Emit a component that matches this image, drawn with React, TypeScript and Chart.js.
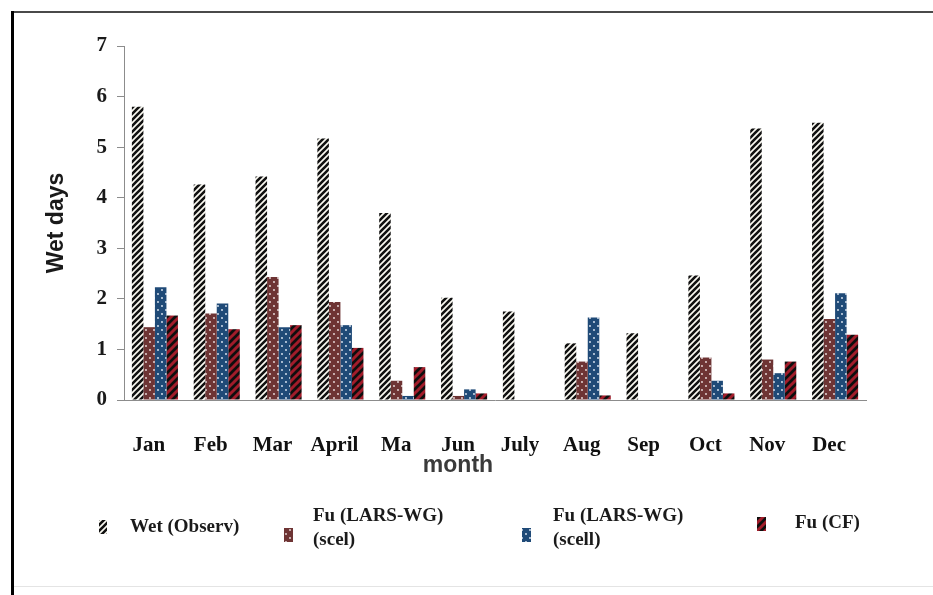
import React, { useEffect, useRef } from 'react';
import { Chart, registerables } from 'chart.js';

Chart.register(...registerables);

// ---- data ----
const months = ['Jan', 'Feb', 'Mar', 'April', 'Ma', 'Jun', 'July', 'Aug', 'Sep', 'Oct', 'Nov', 'Dec'];
const wetObserv = [5.8, 4.26, 4.42, 5.17, 3.7, 2.02, 1.75, 1.12, 1.32, 2.46, 5.37, 5.48];
const fuScel = [1.44, 1.71, 2.43, 1.94, 0.38, 0.08, 0, 0.76, 0, 0.84, 0.8, 1.6];
const fuScell = [2.23, 1.91, 1.44, 1.48, 0.08, 0.21, 0, 1.63, 0, 0.38, 0.53, 2.11];
const fuCF = [1.67, 1.4, 1.48, 1.03, 0.65, 0.13, 0, 0.09, 0, 0.13, 0.76, 1.29];
const seriesNames = ['Wet (Observ)', 'Fu (LARS-WG) (scel)', 'Fu (LARS-WG) (scell)', 'Fu (CF)'];
const legendLines = [['Wet (Observ)'], ['Fu (LARS-WG)', '(scel)'], ['Fu (LARS-WG)', '(scell)'], ['Fu (CF)']];
const yTickValues = [0, 1, 2, 3, 4, 5, 6, 7];
const xTitle = 'month';
const yTitle = 'Wet days';

function makeStripe(bg: string, fg: string, size: number, lw: number): HTMLCanvasElement {
  const c = document.createElement('canvas');
  c.width = size;
  c.height = size;
  const g = c.getContext('2d')!;
  g.fillStyle = bg;
  g.fillRect(0, 0, size, size);
  g.strokeStyle = fg;
  g.lineWidth = lw;
  g.beginPath();
  g.moveTo(-2, 2);
  g.lineTo(2, -2);
  g.moveTo(0, size);
  g.lineTo(size, 0);
  g.moveTo(size - 2, size + 2);
  g.lineTo(size + 2, size - 2);
  g.stroke();
  return c;
}

function makeDots(bg: string, fg: string, size: number): HTMLCanvasElement {
  const c = document.createElement('canvas');
  c.width = size;
  c.height = size;
  const g = c.getContext('2d')!;
  g.fillStyle = bg;
  g.fillRect(0, 0, size, size);
  g.fillStyle = fg;
  const pts = [
    [size / 4, size / 4],
    [(3 * size) / 4, (3 * size) / 4],
  ];
  pts.forEach(([x, y]) => {
    g.beginPath();
    g.arc(x, y, 0.9, 0, Math.PI * 2);
    g.fill();
  });
  return c;
}

export default function App() {
  const ref = useRef<HTMLCanvasElement | null>(null);

  useEffect(() => {
    const canvas = ref.current!;
    const ctx = canvas.getContext('2d')!;
    const pObs = ctx.createPattern(makeStripe('#fbfaf2', '#111111', 6, 2.6), 'repeat')!;
    const pScel = ctx.createPattern(makeDots('#6e3434', '#f0e4e4', 8), 'repeat')!;
    const pScell = ctx.createPattern(makeDots('#1f4a77', '#e6eef8', 8), 'repeat')!;
    const pCF = ctx.createPattern(makeStripe('#0e0e0e', '#a11c2a', 8, 3), 'repeat')!;
    const fills = [pObs, pScel, pScell, pCF];
    const seriesData = [wetObserv, fuScel, fuScell, fuCF];

    const framePlugin = {
      id: 'frame',
      beforeDraw(chart: any) {
        const c = chart.ctx;
        c.save();
        c.fillStyle = '#ffffff';
        c.fillRect(0, 0, chart.width, chart.height);
        c.fillStyle = '#4a4a4a';
        c.fillRect(11, 11, chart.width - 11, 2);
        c.fillStyle = '#000000';
        c.fillRect(11, 11, 3, chart.height - 11);
        c.fillStyle = '#e4e4e4';
        c.fillRect(14, 586, chart.width - 14, 1);
        c.restore();
      },
    };

    const legendPlugin = {
      id: 'customLegend',
      afterDraw(chart: any) {
        const c = chart.ctx;
        c.save();
        // x axis title
        c.fillStyle = '#3a3a3a';
        c.font = 'bold 23px "Liberation Sans", Arial, sans-serif';
        c.textAlign = 'center';
        c.textBaseline = 'middle';
        c.fillText(xTitle, 458, 466);

        const items = [
          { sx: 99, sy: 520, sw: 8, sh: 14, tx: 130, ty: 527 },
          { sx: 284, sy: 528, sw: 9, sh: 14, tx: 313, ty: 516 },
          { sx: 522, sy: 528, sw: 9, sh: 14, tx: 553, ty: 516 },
          { sx: 757, sy: 517, sw: 9, sh: 14, tx: 795, ty: 523 },
        ];
        c.font = 'bold 19px "Liberation Serif", "Times New Roman", serif';
        c.textAlign = 'left';
        c.textBaseline = 'middle';
        items.forEach((it, i) => {
          c.fillStyle = fills[i];
          c.fillRect(it.sx, it.sy, it.sw, it.sh);
          c.fillStyle = '#1a1a1a';
          legendLines[i].forEach((line, j) => {
            c.fillText(line, it.tx, it.ty + j * 24);
          });
        });
        c.restore();
      },
    };

    const chart = new Chart(canvas, {
      type: 'bar',
      data: {
        labels: months,
        datasets: seriesNames.map((name, i) => ({
          label: name,
          data: seriesData[i],
          backgroundColor: fills[i],
          borderWidth: 0,
          categoryPercentage: 0.745,
          barPercentage: 1,
        })),
      },
      options: {
        responsive: false,
        animation: false,
        devicePixelRatio: 1,
        layout: { padding: { left: 40, top: 46, right: 67, bottom: 95 } },
        plugins: {
          legend: { display: false },
          tooltip: { enabled: false },
          title: { display: false },
        },
        scales: {
          x: {
            grid: { display: false },
            border: { display: true, color: '#8c8c8c', width: 1 },
            ticks: {
              color: '#111111',
              font: { family: '"Liberation Serif", "Times New Roman", serif', size: 21, weight: 'bold' },
              padding: 25,
              labelOffset: -6,
              maxRotation: 0,
              autoSkip: false,
            },
            afterFit(scale: any) {
              scale.height = 100;
            },
          },
          y: {
            min: 0,
            max: 7,
            afterBuildTicks(scale: any) {
              scale.ticks = yTickValues.map((v) => ({ value: v }));
            },
            grid: {
              display: true,
              drawOnChartArea: false,
              drawTicks: true,
              tickLength: 7,
              color: '#8c8c8c',
            },
            border: { display: true, color: '#8c8c8c', width: 1 },
            ticks: {
              color: '#1a1a1a',
              font: { family: '"Liberation Serif", "Times New Roman", serif', size: 21, weight: 'bold' },
              padding: 10,
            },
            title: {
              display: true,
              text: yTitle,
              color: '#1a1a1a',
              font: { family: '"Liberation Sans", Arial, sans-serif', size: 23, weight: 'bold' },
              padding: { top: 3, bottom: 0 },
            },
            afterFit(scale: any) {
              scale.width = 84;
            },
          },
        },
      },
      plugins: [framePlugin, legendPlugin],
    } as any);

    return () => {
      chart.destroy();
    };
  }, []);

  return (
    <div style={{ position: 'fixed', left: 0, top: 0, width: 933, height: 595, background: '#fff' }}>
      <canvas ref={ref} width={933} height={595} style={{ display: 'block', width: 933, height: 595 }} />
    </div>
  );
}
